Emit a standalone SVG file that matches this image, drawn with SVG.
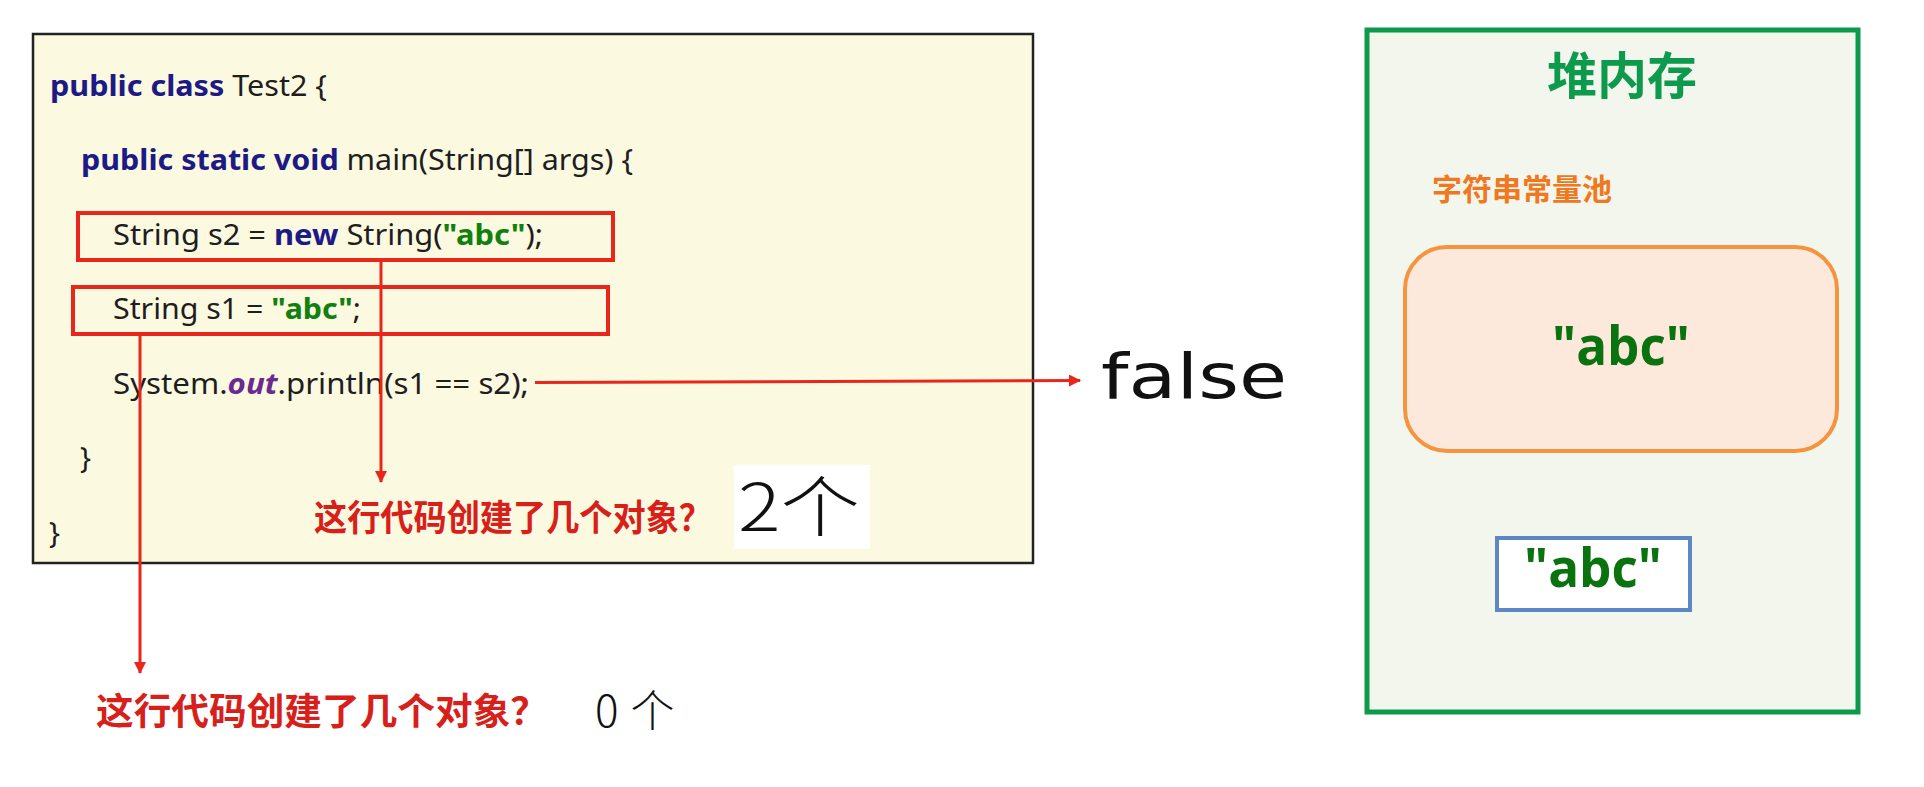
<svg xmlns="http://www.w3.org/2000/svg" width="1924" height="787" viewBox="0 0 1924 787">
<defs>
<style>
.code{font-family:"Noto Sans","Open Sans","Liberation Sans",sans-serif;font-size:29px;fill:#1e1e1e}
.kw{font-weight:700;fill:#1c1a85}
.str{font-weight:700;fill:#11800f}
.fld{font-weight:700;font-style:italic;fill:#6a2a90}
.q{font-family:"Noto Sans CJK SC","Noto Sans",sans-serif;font-weight:700;fill:#d8201a}
.hand{font-family:"Noto Sans CJK SC","DejaVu Sans",sans-serif;font-weight:300;fill:#111}
.abc{font-family:"Open Sans","Noto Sans",sans-serif;font-weight:700;font-size:53px;fill:#0b7210;text-anchor:middle}
.red{fill:none;stroke:#e8261c;stroke-width:4}
.conn{fill:none;stroke:#e8261c;stroke-width:3}
</style>
<marker id="ah" viewBox="0 0 12 12" refX="11" refY="6" markerWidth="12" markerHeight="12" markerUnits="userSpaceOnUse" orient="auto">
<path d="M0,0 L12,6 L0,12 z" fill="#e8261c"/>
</marker>
</defs>
<rect width="1924" height="787" fill="#ffffff"/>

<g id="code-box">
<rect x="33" y="34" width="1000" height="529" fill="#fcf9e1" stroke="#222" stroke-width="2.5"/>
<text class="code" x="50" y="96" textLength="277" lengthAdjust="spacingAndGlyphs"><tspan class="kw">public class</tspan> Test2 {</text>
<text class="code" x="81" y="170" textLength="552" lengthAdjust="spacingAndGlyphs"><tspan class="kw">public static void</tspan> main(String[] args) {</text>
<text class="code" x="80" y="468">}</text>
<text class="code" x="49" y="543">}</text>
</g>

<g id="line-s2">
<rect class="red" x="78" y="213" width="535" height="47"/>
<text class="code" x="113" y="245" textLength="430" lengthAdjust="spacingAndGlyphs">String s2 = <tspan class="kw">new</tspan> String(<tspan class="str">"abc"</tspan>);</text>
</g>

<g id="line-s1">
<rect class="red" x="73" y="287" width="535" height="47"/>
<text class="code" x="113" y="319" textLength="248" lengthAdjust="spacingAndGlyphs">String s1 = <tspan class="str">"abc"</tspan>;</text>
</g>

<g id="line-println">
<text class="code" x="113" y="394" textLength="416" lengthAdjust="spacingAndGlyphs">System.<tspan class="fld">out</tspan>.println(s1 == s2);</text>
</g>

<g id="question-1">
<text class="q" x="314" y="531" font-size="36" textLength="398" lengthAdjust="spacingAndGlyphs">这行代码创建了几个对象？</text>
</g>

<g id="answer-2">
<rect x="734" y="465" width="136" height="84" fill="#ffffff"/>
<text class="hand" x="738" y="531" font-size="66" textLength="122" lengthAdjust="spacingAndGlyphs">2个</text>
</g>

<g id="question-2">
<text class="q" x="96" y="725" font-size="37" textLength="452" lengthAdjust="spacingAndGlyphs">这行代码创建了几个对象？</text>
</g>

<g id="answer-0">
<text class="hand" x="595" y="727" font-size="44" letter-spacing="12">0个</text>
</g>

<g id="result-false">
<text x="1101" y="398" font-family="DejaVu Sans, sans-serif" font-size="62" fill="#111" textLength="186" lengthAdjust="spacingAndGlyphs">false</text>
</g>

<g id="heap">
<rect x="1367" y="30" width="491" height="682" fill="#f2f6ed" stroke="#0e9a4c" stroke-width="5"/>
<text x="1622" y="94" font-family="Noto Sans CJK SC, sans-serif" font-weight="700" font-size="50" fill="#0e9a4c" text-anchor="middle">堆内存</text>
</g>

<g id="string-pool">
<text x="1432" y="200" font-family="Noto Sans CJK SC, sans-serif" font-weight="700" font-size="30" fill="#f07820">字符串常量池</text>
<rect x="1405" y="247" width="432" height="204" rx="42" ry="42" fill="#fde9db" stroke="#f5943f" stroke-width="4"/>
<text class="abc" x="1621" y="365" textLength="138" lengthAdjust="spacingAndGlyphs">"abc"</text>
</g>

<g id="heap-object">
<rect x="1497" y="538" width="193" height="72" fill="#ffffff" stroke="#5b87c5" stroke-width="4"/>
<text class="abc" x="1593" y="587" textLength="138" lengthAdjust="spacingAndGlyphs">"abc"</text>
</g>

<g id="connectors">
<path class="conn" d="M381,260 V482" marker-end="url(#ah)"/>
<path class="conn" d="M140,334 V673" marker-end="url(#ah)"/>
<path class="conn" d="M535,382.5 L1080,380.5" marker-end="url(#ah)"/>
</g>
</svg>
